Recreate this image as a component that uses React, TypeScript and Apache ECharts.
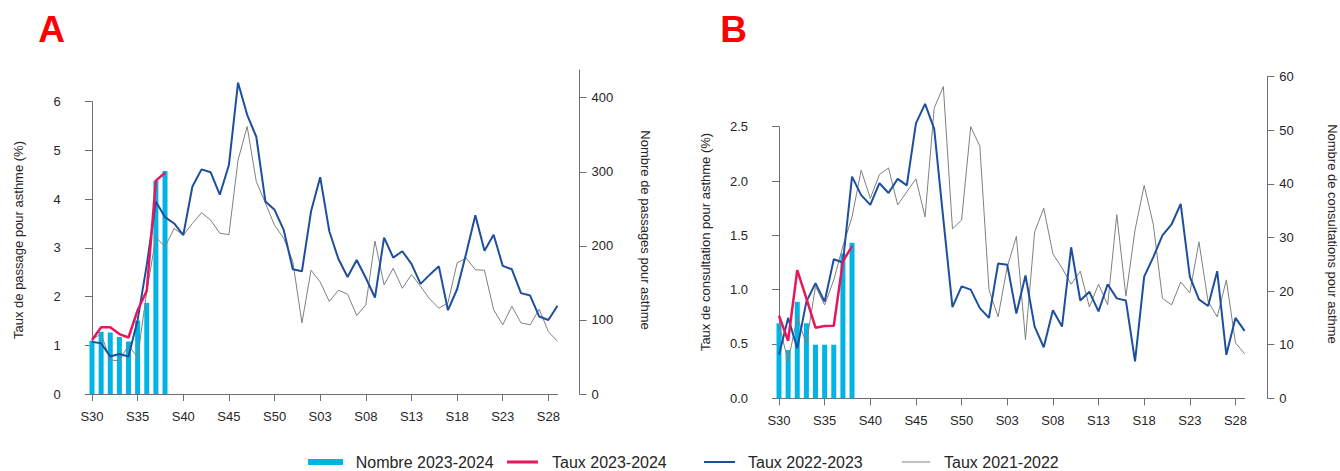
import React, { useEffect, useRef } from "react";
import * as echarts from "echarts";

// ---------- data ----------
const weeks = [
  "S30","S31","S32","S33","S34","S35","S36","S37","S38","S39","S40","S41","S42","S43","S44","S45","S46","S47","S48","S49","S50","S51","S52",
  "S01","S02","S03","S04","S05","S06","S07","S08","S09","S10","S11","S12","S13","S14","S15","S16","S17","S18","S19","S20","S21","S22","S23","S24","S25","S26","S27","S28","S29",
];

// Panel A : passages aux urgences
const nombreA = [72, 84, 83, 77, 71, 99, 123, 288, 301];
const taux2324A = [1.11, 1.37, 1.37, 1.23, 1.16, 1.72, 2.12, 4.38, 4.54];
const taux2223A = [
  1.07, 1.04, 0.77, 0.82, 0.77, 1.52, 2.65, 3.95, 3.63, 3.5, 3.26, 4.26, 4.61, 4.55, 4.09, 4.7, 6.39, 5.73, 5.28, 3.95, 3.78, 3.37, 2.56,
  2.52, 3.75, 4.45, 3.34, 2.77, 2.4, 2.75, 2.38, 1.98, 3.21, 2.8, 2.93, 2.67, 2.26, 2.45, 2.62, 1.72, 2.15, 2.89, 3.67, 2.94, 3.27, 2.63, 2.56, 2.07, 2.02, 1.59, 1.52, 1.81,
];
const taux2122A = [
  1.12, 1.23, 0.7, 0.68, 1.0, 0.75, 2.1, 3.22, 3.02, 3.4, 3.26, 3.5, 3.72, 3.57, 3.3, 3.27, 4.8, 5.49, 4.36, 3.92, 3.46, 3.2, 2.72,
  1.46, 2.54, 2.3, 1.9, 2.13, 2.05, 1.61, 1.83, 3.14, 2.24, 2.58, 2.17, 2.45, 2.21, 1.95, 1.76, 1.87, 2.69, 2.79, 2.55, 2.54, 1.73, 1.42, 1.8, 1.46, 1.42, 1.74, 1.28, 1.08,
];
const leftTicksA = [0, 1, 2, 3, 4, 5, 6];
const rightTicksA = [0, 100, 200, 300, 400];

// Panel B : consultations SOS Médecins
const nombreB = [14, 9, 18, 14, 10, 10, 10, 27, 29];
const taux2324B = [0.76, 0.53, 1.18, 0.92, 0.65, 0.665, 0.668, 1.26, 1.4];
const taux2223B = [
  0.4, 0.74, 0.46, 0.89, 1.06, 0.89, 1.28, 1.25, 2.04, 1.87, 1.78, 1.98, 1.89, 2.02, 1.96, 2.53, 2.71, 2.48, 1.65, 0.84, 1.03, 1.0, 0.83,
  0.74, 1.24, 1.23, 0.78, 1.13, 0.66, 0.47, 0.81, 0.66, 1.39, 0.9, 0.98, 0.8, 1.05, 0.92, 0.9, 0.34, 1.12, 1.3, 1.5, 1.6, 1.79, 1.12, 0.91, 0.85, 1.17, 0.4, 0.74, 0.62,
];
const taux2122B = [
  0.68, 0.34, 0.75, 0.5, 1.03, 0.86, 1.09, 1.4, 1.67, 2.1, 1.84, 2.06, 2.12, 1.78, 1.9, 2.02, 1.67, 2.67, 2.87, 1.56, 1.64, 2.5, 2.32,
  1.0, 0.75, 1.21, 1.49, 0.54, 1.53, 1.75, 1.33, 1.2, 1.05, 1.17, 0.84, 1.05, 0.86, 1.69, 0.94, 1.55, 1.96, 1.6, 0.92, 0.86, 1.07, 0.97, 1.44, 0.89, 0.75, 1.09, 0.51, 0.41,
];
const leftTicksB = [0, 0.5, 1, 1.5, 2, 2.5];
const rightTicksB = [0, 10, 20, 30, 40, 50, 60];

const seriesNames = ["Nombre 2023-2024", "Taux 2023-2024", "Taux 2022-2023", "Taux 2021-2022"];

// ---------- style ----------
const W = 1340;
const H = 471;
const FONT = "'Liberation Sans', Arial, Helvetica, sans-serif";
const AXIS = "#6e6e6e";
const TXT = "#262626";
const BAR = "#00b4e6";
const RED = "#e8175d";
const BLUE = "#1d4f9c";
const GRAY = "#808080";

type Panel = {
  x0: number; x1: number; y0: number; yTop: number;
  leftPx: number; rightPx: number;
  leftOffset: number; rightOffset: number;
  leftTicks: number[]; rightTicks: number[]; decimals: number;
  nombre: number[]; t24: number[]; t23: number[]; t22: number[];
  leftTitle: string; rightTitle: string;
  leftTitleX: number; leftTitleY: number; rightTitleX: number; rightTitleY: number;
  letter: string; letterX: number;
};

const panels: Panel[] = [
  {
    x0: 92, x1: 557.5, y0: 394, yTop: 70, leftPx: 48.72, rightPx: 0.7408,
    leftOffset: 19.3, rightOffset: 22,
    leftTicks: leftTicksA, rightTicks: rightTicksA, decimals: 0,
    nombre: nombreA, t24: taux2324A, t23: taux2223A, t22: taux2122A,
    leftTitle: "Taux de passage pour asthme (%)", rightTitle: "Nombre de passages pour asthme",
    leftTitleX: 18.5, leftTitleY: 240, rightTitleX: 645, rightTitleY: 230,
    letter: "A", letterX: 51.5,
  },
  {
    x0: 779, x1: 1244.6, y0: 398.3, yTop: 76.7, leftPx: 108.64, rightPx: 5.36,
    leftOffset: 19, rightOffset: 22.7,
    leftTicks: leftTicksB, rightTicks: rightTicksB, decimals: 1,
    nombre: nombreB, t24: taux2324B, t23: taux2223B, t22: taux2122B,
    leftTitle: "Taux de consultation pour asthme (%)", rightTitle: "Nombre de consultations pour asthme",
    leftTitleX: 705, leftTitleY: 242, rightTitleX: 1332, rightTitleY: 234,
    letter: "B", letterX: 733.5,
  },
];

function buildOption() {
  const grid: any[] = [];
  const xAxis: any[] = [];
  const yAxis: any[] = [];
  const series: any[] = [];
  const graphic: any[] = [];

  const line = { show: true, lineStyle: { color: AXIS, width: 1 } };
  const labelBase = { color: TXT, fontSize: 13, fontFamily: FONT };

  panels.forEach((p) => {
    const h = p.y0 - p.yTop;
    const leftMax = h / p.leftPx;
    const rightMax = h / p.rightPx;
    const leftTop = p.leftTicks[p.leftTicks.length - 1];
    const step = p.leftTicks[1] - p.leftTicks[0];
    const rstep = p.rightTicks[1] - p.rightTicks[0];
    const gMain = grid.length;
    grid.push({ left: p.x0, right: W - p.x1, top: p.yTop, bottom: H - p.y0, containLabel: false, outerBoundsMode: "none" });
    grid.push({ left: p.x0, right: W - p.x1, top: p.y0 - leftTop * p.leftPx, bottom: H - p.y0, containLabel: false, outerBoundsMode: "none" });

    const xMain = xAxis.length;
    xAxis.push({
      type: "category", gridIndex: gMain, data: weeks, boundaryGap: false, offset: 3,
      axisLine: line,
      axisTick: { show: true, interval: 4, length: 7, lineStyle: { color: AXIS } },
      axisLabel: { ...labelBase, interval: 4, margin: 13 },
      splitLine: { show: false },
    });
    xAxis.push({ type: "value", gridIndex: gMain + 1, show: false, min: 0, max: 1 });

    const yLeft = yAxis.length;
    yAxis.push({ type: "value", gridIndex: gMain, show: false, min: 0, max: leftMax, splitLine: { show: false } });
    const yRight = yAxis.length;
    yAxis.push({
      type: "value", gridIndex: gMain, position: "right", offset: p.rightOffset,
      min: 0, max: rightMax, interval: rstep,
      axisLine: line,
      axisTick: { show: true, length: 7, lineStyle: { color: AXIS }, customValues: p.rightTicks },
      axisLabel: {
        ...labelBase, margin: 12, customValues: p.rightTicks, showMaxLabel: true,
        formatter: (v: number) => {
          const r = Math.round(v * 1000) / 1000;
          return p.rightTicks.indexOf(r) >= 0 ? String(r) : "";
        },
      },
      splitLine: { show: false },
    });
    yAxis.push({
      type: "value", gridIndex: gMain + 1, position: "left", offset: p.leftOffset,
      min: 0, max: leftTop, interval: step,
      axisLine: line,
      axisTick: { show: true, length: 7, lineStyle: { color: AXIS } },
      axisLabel: { ...labelBase, margin: 12, formatter: (v: number) => v.toFixed(p.decimals) },
      splitLine: { show: false },
    });

    series.push({
      name: seriesNames[0], type: "bar", xAxisIndex: xMain, yAxisIndex: yRight,
      data: p.nombre, barWidth: 5, color: BAR, itemStyle: { color: BAR }, clip: false,
    });
    series.push({
      name: seriesNames[3], type: "line", xAxisIndex: xMain, yAxisIndex: yLeft,
      data: p.t22, showSymbol: false, symbol: "none", color: GRAY,
      lineStyle: { color: GRAY, width: 1 }, clip: false,
    });
    series.push({
      name: seriesNames[2], type: "line", xAxisIndex: xMain, yAxisIndex: yLeft,
      data: p.t23, showSymbol: false, symbol: "none", color: BLUE,
      lineStyle: { color: BLUE, width: 2 }, clip: false,
    });
    series.push({
      name: seriesNames[1], type: "line", xAxisIndex: xMain, yAxisIndex: yLeft,
      data: p.t24, showSymbol: false, symbol: "none", color: RED,
      lineStyle: { color: RED, width: 2.5 }, clip: false,
    });

    graphic.push({
      type: "text", x: p.leftTitleX, y: p.leftTitleY, rotation: Math.PI / 2,
      style: { text: p.leftTitle, fontSize: 13, fontFamily: FONT, fill: TXT, align: "center", verticalAlign: "middle" },
    });
    graphic.push({
      type: "text", x: p.rightTitleX, y: p.rightTitleY, rotation: -Math.PI / 2,
      style: { text: p.rightTitle, fontSize: 13, fontFamily: FONT, fill: TXT, align: "center", verticalAlign: "middle" },
    });
    graphic.push({
      type: "text", x: p.letterX, y: 29,
      style: { text: p.letter, fontSize: 37, fontWeight: "bold", fontFamily: FONT, fill: "#ff0000", align: "center", verticalAlign: "middle" },
    });
  });

  const legendItems = [
    { name: seriesNames[0], left: 308, w: 35, h: 6, color: BAR, gap: 12.7 },
    { name: seriesNames[1], left: 507, w: 31, h: 3, color: RED, gap: 14 },
    { name: seriesNames[2], left: 704, w: 31, h: 2, color: BLUE, gap: 13 },
    { name: seriesNames[3], left: 902, w: 28, h: 1, color: GRAY, gap: 14 },
  ];
  const legend = legendItems.map((l) => ({
    left: l.left, top: 454, padding: 0, itemWidth: l.w, itemHeight: l.h, selectedMode: false,
    data: [{ name: l.name, icon: "rect", itemStyle: { color: l.color, borderWidth: 0 } }],
    textStyle: { fontSize: 16, color: TXT, fontFamily: FONT, padding: [0, 0, 0, l.gap - 5] },
  }));

  return {
    animation: false,
    backgroundColor: "#ffffff",
    textStyle: { fontFamily: FONT },
    grid, xAxis, yAxis, series, legend, graphic,
  };
}

export default function App() {
  const ref = useRef<HTMLDivElement>(null);
  useEffect(() => {
    document.body.style.margin = "0";
    const chart = echarts.init(ref.current!, null, { renderer: "svg" });
    chart.setOption(buildOption() as any);
    return () => chart.dispose();
  }, []);
  return <div ref={ref} style={{ width: W, height: H }} />;
}
